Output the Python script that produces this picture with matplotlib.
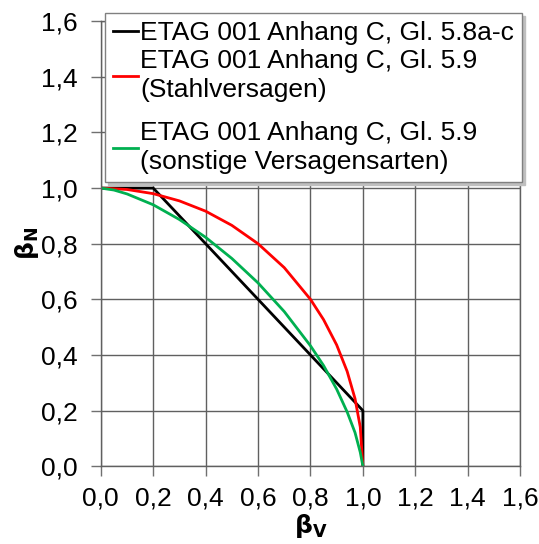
import matplotlib.pyplot as plt
from matplotlib.offsetbox import VPacker, DrawingArea
import numpy as np

plt.rcParams['font.family'] = ['Liberation Sans', 'DejaVu Sans']

# Gl. 5.8a-c (Trilinear)
bv_lin = [0.0, 0.2, 1.0, 1.0]
bn_lin = [1.0, 1.0, 0.2, 0.0]

# Gl. 5.9 Stahlversagen
bv_steel = [0.0, 0.1, 0.2, 0.3, 0.4, 0.5, 0.6, 0.7, 0.8, 0.85, 0.9, 0.94, 0.97, 0.99, 1.0]
bn_steel = [1.0, 0.995, 0.98, 0.954, 0.917, 0.866, 0.80, 0.714, 0.60, 0.527, 0.436, 0.341, 0.243, 0.141, 0.0]

# Gl. 5.9 sonstige Versagensarten
bv_other = [0.0, 0.05, 0.1, 0.2, 0.3, 0.4, 0.5, 0.6, 0.7, 0.8, 0.85, 0.9, 0.94, 0.97, 0.99, 1.0]
bn_other = [1.0, 0.993, 0.979, 0.94, 0.887, 0.823, 0.747, 0.659, 0.556, 0.433, 0.362, 0.277, 0.195, 0.121, 0.05, 0.0]

ticks = [0.0, 0.2, 0.4, 0.6, 0.8, 1.0, 1.2, 1.4, 1.6]
tick_labels = ['0,0', '0,2', '0,4', '0,6', '0,8', '1,0', '1,2', '1,4', '1,6']

fig = plt.figure(figsize=(5.39, 5.44), dpi=100)
ax = fig.add_axes([0.187, 0.143, 0.778, 0.818])

ax.plot(bv_lin, bn_lin, color='black', lw=2,
        label='ETAG 001 Anhang C, Gl. 5.8a-c')
ax.plot(bv_steel, bn_steel, color='#ff0000', lw=2,
        label='ETAG 001 Anhang C, Gl. 5.9\n(Stahlversagen)')
ax.plot(bv_other, bn_other, color='#00b050', lw=2,
        label='ETAG 001 Anhang C, Gl. 5.9\n(sonstige Versagensarten)')

ax.set_xlim(0, 1.6)
ax.set_ylim(0, 1.6)
ax.set_xticks(ticks)
ax.set_xticklabels(tick_labels)
ax.set_yticks(ticks)
ax.set_yticklabels(tick_labels)
ax.tick_params(labelsize=19, length=7, width=1, color='#707070')
ax.tick_params(axis='x', pad=7.5)
ax.tick_params(axis='y', pad=9.5)
ax.grid(True, color='#606060', lw=1)
for s in ax.spines.values():
    s.set_color('#606060')
    s.set_linewidth(1)

ax.set_xlabel(r'$\mathbf{\beta_V}$', fontsize=18, labelpad=1)
ax.set_ylabel(r'$\mathbf{\beta_N}$', fontsize=18, labelpad=0)

leg = ax.legend(loc='upper left', bbox_to_anchor=(0.01, 1.018), borderaxespad=0,
                fontsize=19, fancybox=False, framealpha=1, edgecolor='#808080',
                handlelength=0.95, handletextpad=0.08, labelspacing=0.15,
                borderpad=0.3,
                shadow={'color': '0.75', 'alpha': 1, 'ox': 2, 'oy': -2})
leg.get_frame().set_linewidth(1)
for t in leg.get_texts():
    t.set_linespacing(1.25)

# extra gap before the third entry, as in the original legend
col = leg._legend_handle_box.get_children()[0]
entries = col.get_children()
gap_box = VPacker(children=[DrawingArea(1, 11), entries[2]], pad=0, sep=0, align='left')
gap_box.set_figure(fig)
entries[2] = gap_box

fig.savefig('out.png', dpi=100)
